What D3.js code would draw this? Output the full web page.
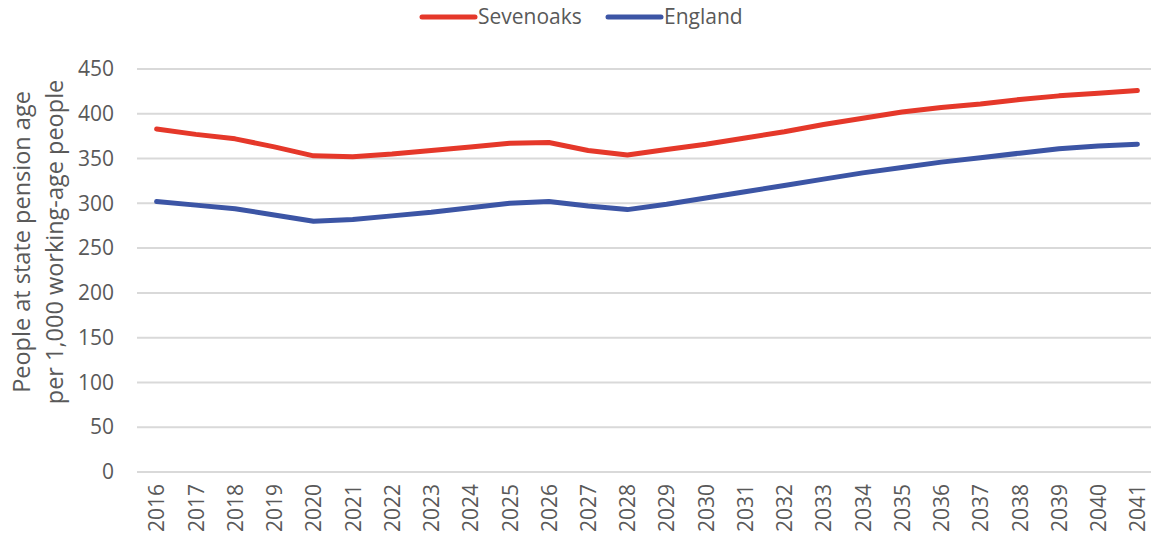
<!DOCTYPE html>
<html>
<head>
<meta charset="utf-8">
<script src="https://cdn.jsdelivr.net/npm/d3@7"></script>
<style>
  body { margin: 0; background: #fff; }
  text { font-family: "Open Sans", sans-serif; fill: #595959; }
</style>
</head>
<body>
<div id="chart"></div>
<script>
// Years along the x axis
var years = ["2016", "2017", "2018", "2019", "2020", "2021", "2022", "2023", "2024", "2025", "2026", "2027", "2028",
    "2029", "2030", "2031", "2032", "2033", "2034", "2035", "2036", "2037", "2038", "2039", "2040", "2041"];

// People at state pension age per 1,000 working-age people
var sevenoaks = [383, 377, 372, 363, 353, 352, 355, 359, 363, 367, 368, 359, 354,
    360, 366, 373, 380, 388, 395, 402, 407, 411, 416, 420, 423, 426];
var england = [302, 298, 294, 287, 280, 282, 286, 290, 295, 300, 302, 297, 293,
    299, 306, 313, 320, 327, 334, 340, 346, 351, 356, 361, 364, 366];

var yTicks = [0, 50, 100, 150, 200, 250, 300, 350, 400, 450];

var seriesNames = ["Sevenoaks", "England"];
var seriesColors = ["#e5382a", "#3c55a5"];

var W = 1151, H = 541;
var margin = { top: 69, right: -6, bottom: 69, left: 137 };
var width = W - margin.left - margin.right,
    height = H - margin.top - margin.bottom;

var svg = d3.select("#chart")
    .append("svg")
    .attr("width", W)
    .attr("height", H);

var g = svg.append("g")
    .attr("transform", "translate(" + margin.left + "," + margin.top + ")");

var x = d3.scalePoint()
    .domain(years)
    .range([0, width])
    .padding(0.5);

var y = d3.scaleLinear()
    .domain([0, 450])
    .range([height, 0]);

// gridlines
g.selectAll(".grid")
    .data(yTicks)
    .enter()
    .append("line")
    .attr("x1", 0)
    .attr("x2", width)
    .attr("y1", function (d) { return y(d); })
    .attr("y2", function (d) { return y(d); })
    .attr("stroke", "#d9d9d9")
    .attr("stroke-width", 2);

// y axis labels
var yAxis = g.append("g")
    .call(d3.axisLeft(y).tickValues(yTicks).tickSize(0).tickPadding(23));
yAxis.select(".domain").remove();
yAxis.selectAll("text")
    .style("font-size", "21px")
    .attr("fill", "#595959");

// x axis labels, rotated
var xAxis = g.append("g")
    .attr("transform", "translate(0," + height + ")")
    .call(d3.axisBottom(x).tickSize(0));
xAxis.select(".domain").remove();
xAxis.selectAll("text")
    .style("font-size", "21px")
    .attr("fill", "#595959")
    .attr("transform", "rotate(-90)")
    .attr("text-anchor", "end")
    .attr("x", -12)
    .attr("y", 0)
    .attr("dy", "0.35em");

// y axis title
var title = svg.append("text")
    .attr("transform", "translate(22,242) rotate(-90)")
    .attr("text-anchor", "middle")
    .style("font-size", "23.5px");
title.append("tspan")
    .attr("x", 0)
    .attr("dy", "0.35em")
    .text("People at state pension age");
title.append("tspan")
    .attr("x", 0)
    .attr("dy", "1.4em")
    .text("per 1,000 working-age people");

// lines
var line = d3.line()
    .x(function (d, i) { return x(years[i]); })
    .y(function (d) { return y(d); });

[sevenoaks, england].forEach(function (data, k) {
    g.append("path")
        .datum(data)
        .attr("fill", "none")
        .attr("stroke", seriesColors[k])
        .attr("stroke-width", 5)
        .attr("stroke-linejoin", "round")
        .attr("stroke-linecap", "round")
        .attr("d", line);
});

// legend
var legendX = [420, 606];
seriesNames.forEach(function (name, k) {
    var lg = svg.append("g")
        .attr("transform", "translate(" + legendX[k] + ",17)");
    lg.append("line")
        .attr("x1", 2)
        .attr("x2", 55)
        .attr("stroke", seriesColors[k])
        .attr("stroke-width", 5)
        .attr("stroke-linecap", "round");
    lg.append("text")
        .attr("x", 58)
        .attr("dy", "0.35em")
        .style("font-size", "21px")
        .text(name);
});
</script>
</body>
</html>
